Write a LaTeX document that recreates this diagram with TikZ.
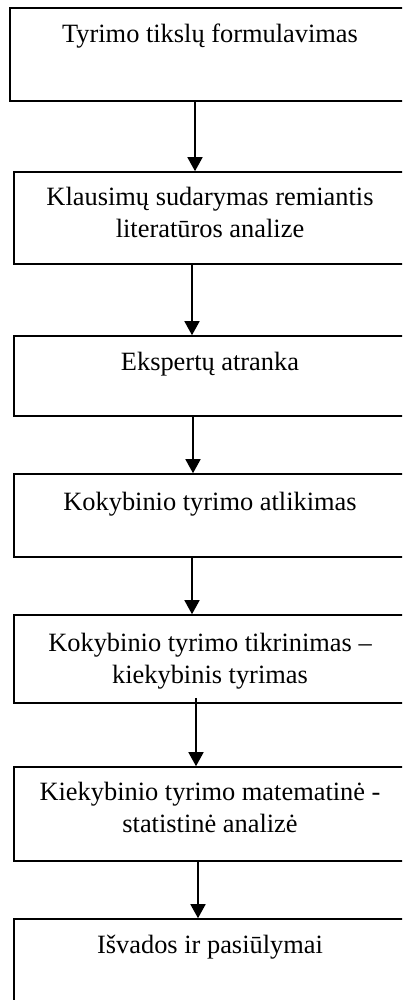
\documentclass[tikz,border=0pt]{standalone}
\usepackage{fontspec}
\setmainfont{Liberation Serif}
\usetikzlibrary{arrows.meta}
\begin{document}
\begin{tikzpicture}[x=1pt,y=-1pt,
  stepbox/.style={draw=black, line width=1.6pt, rectangle, inner sep=0pt, minimum width=426pt},
  steptext/.style={anchor=north, inner sep=0pt, align=center, font=\fontsize{26.4}{32}\selectfont},
  arr/.style={line width=1.6pt, -{Triangle[length=14pt,width=15pt]}}]
\useasboundingbox (0,0) rectangle (402,1000);
\clip (0,0) rectangle (402,1000);
\coordinate (cx) at (210,0);
% boxes (right edges lie beyond the picture's edge)
\node[stepbox, minimum width=430pt, minimum height=93pt] (b1) at (225,54.5) {};
\node[stepbox, minimum height=92pt] (b2) at (227,218) {};
\node[stepbox, minimum height=80pt] (b3) at (227,376) {};
\node[stepbox, minimum height=83pt] (b4) at (227,515.5) {};
\node[stepbox, minimum height=88pt] (b5) at (227,659) {};
\node[stepbox, minimum height=94pt] (b6) at (227,814) {};
\node[stepbox, minimum height=100pt] (b7) at (227,969) {};
% texts
\node[steptext] (t1) at ([yshift=-13]b1.north -| cx) {\strut Tyrimo tikslų formulavimas};
\node[steptext] (t2) at ([yshift=-11.5]b2.north -| cx) {\strut Klausimų sudarymas remiantis\\literatūros analize};
\node[steptext] (t3) at ([yshift=-13]b3.north -| cx) {\strut Ekspertų atranka};
\node[steptext] (t4) at ([yshift=-15]b4.north -| cx) {\strut Kokybinio tyrimo atlikimas};
\node[steptext] (t5) at ([yshift=-15]b5.north -| cx) {\strut Kokybinio tyrimo tikrinimas –\\kiekybinis tyrimas};
\node[steptext] (t6) at ([yshift=-11.5]b6.north -| cx) {\strut Kiekybinio tyrimo matematinė -\\statistinė analizė};
\node[steptext] (t7) at ([yshift=-12.5]b7.north -| cx) {\strut Išvados ir pasiūlymai};
% arrows
\draw[arr] ([xshift=-30]b1.south) -- ([xshift=-30]b1.south |- b2.north);
\draw[arr] ([xshift=-35]b2.south) -- ([xshift=-35]b2.south |- b3.north);
\draw[arr] ([xshift=-34]b3.south) -- ([xshift=-34]b3.south |- b4.north);
\draw[arr] ([xshift=-35]b4.south) -- ([xshift=-35]b4.south |- b5.north);
\draw[arr] ([xshift=-31,yshift=6]b5.south) -- ([xshift=-31]b5.south |- b6.north);
\draw[arr] ([xshift=-29]b6.south) -- ([xshift=-29]b6.south |- b7.north);
\end{tikzpicture}
\end{document}
